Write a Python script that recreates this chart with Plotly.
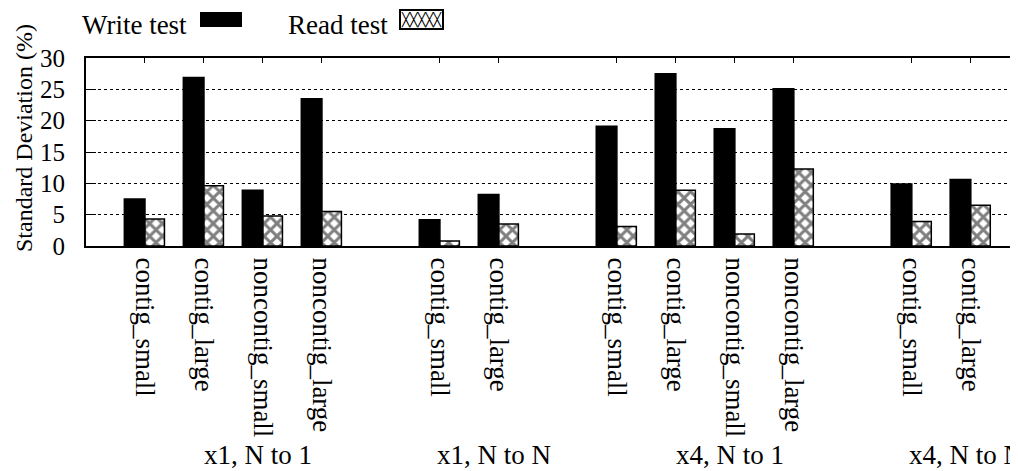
import plotly.graph_objects as go

groups = ["x1, N to 1", "x1, N to N", "x4, N to 1", "x4, N to N"]
group_cats = [
    ["contig_small", "contig_large", "noncontig_small", "noncontig_large"],
    ["contig_small", "contig_large"],
    ["contig_small", "contig_large", "noncontig_small", "noncontig_large"],
    ["contig_small", "contig_large"],
]
write_vals = [7.5, 26.9, 8.9, 23.5, 4.2, 8.2, 19.1, 27.5, 18.7, 25.1, 9.9, 10.6]
read_vals = [4.3, 9.6, 4.8, 5.5, 0.8, 3.5, 3.1, 8.9, 1.9, 12.3, 3.9, 6.5]
y_ticks = [0, 5, 10, 15, 20, 25, 30]
series_names = ["Write test", "Read test"]

# slot positions: one empty slot between groups
xs, labels, centers = [], [], []
pos = 1
for cats in group_cats:
    gx = []
    for c in cats:
        xs.append(pos)
        labels.append(c)
        gx.append(pos)
        pos += 1
    centers.append(sum(gx) / len(gx))
    pos += 1

FONT = "Liberation Serif"
FS = 27
OFF = 8  # default page body margin
W, H = 1018 - OFF, 471 - OFF
ML, MT = 86 - OFF, 58 - OFF
PB = 246 - OFF
MB = H - PB
PW, PH = W - ML, PB - MT

def px_x(p):
    return (p - OFF - ML) / PW

def px_y(p):
    return (PB - (p - OFF)) / PH

fig = go.Figure()
fig.add_trace(go.Bar(
    x=xs, y=write_vals, name=series_names[0], showlegend=False,
    marker=dict(color="black", line=dict(color="black", width=1.5)),
    offset=-0.35, width=0.35, hoverinfo="y",
))
fig.add_trace(go.Bar(
    x=xs, y=read_vals, name=series_names[1], showlegend=False,
    marker=dict(color="white", line=dict(color="black", width=1.5),
                pattern=dict(shape="x", fgcolor="black", bgcolor="white",
                             size=9, solidity=0.55, fillmode="overlay")),
    offset=0.0, width=0.33, hoverinfo="y",
))

# legend: text followed by key swatch
fig.add_annotation(x=px_x(188), y=1.0 + (MT - 1) / PH, xref="paper", yref="paper",
                   text=series_names[0], showarrow=False, xanchor="right", yanchor="top",
                   font=dict(family=FONT, size=FS, color="black"), borderpad=0)
fig.add_annotation(x=px_x(389), y=1.0 + (MT - 1) / PH, xref="paper", yref="paper",
                   text=series_names[1], showarrow=False, xanchor="right", yanchor="top",
                   font=dict(family=FONT, size=FS, color="black"), borderpad=0)
fig.add_annotation(x=px_x(221), y=px_y(19), xref="paper", yref="paper",
                   text="", showarrow=False, xanchor="center", yanchor="middle",
                   width=42, height=15, bgcolor="black", borderpad=0, borderwidth=0)
fig.add_annotation(x=px_x(421), y=px_y(19), xref="paper", yref="paper",
                   text="╳╳╳╳╳", showarrow=False, xanchor="center", yanchor="middle",
                   bgcolor="white", bordercolor="black", borderwidth=2, borderpad=0,
                   font=dict(family="DejaVu Sans Mono", size=13, color="black"))

for g, cx in zip(groups, centers):
    fig.add_annotation(x=cx + 0.42, y=px_y(455), xref="x", yref="paper",
                       text=g, showarrow=False, xanchor="center", yanchor="middle",
                       font=dict(family=FONT, size=FS, color="black"))

# y axis title
fig.add_annotation(x=px_x(24), y=px_y(138), xref="paper", yref="paper",
                   text="Standard Deviation (%)", showarrow=False, textangle=-90,
                   xanchor="center", yanchor="middle",
                   font=dict(family=FONT, size=24, color="black"))

fig.update_layout(
    width=W, height=H,
    margin=dict(l=ML, r=0, t=MT, b=MB, autoexpand=False),
    paper_bgcolor="white", plot_bgcolor="white",
    font=dict(family=FONT, size=FS, color="black"),
    showlegend=False,
)
fig.update_xaxes(
    range=[0, 15.8], tickvals=xs, ticktext=labels, tickangle=90,
    showline=True, linecolor="black", linewidth=2, mirror="ticks",
    ticks="inside", ticklen=5, tickcolor="black", showgrid=False,
    tickfont=dict(family=FONT, size=FS), ticklabelstandoff=4, automargin=False,
)
fig.update_yaxes(
    range=[0, 30], tickvals=y_ticks, showline=True, linecolor="black", linewidth=2,
    ticks="inside", ticklen=10, tickcolor="black",
    showgrid=True, gridcolor="black", griddash="dot", gridwidth=1,
    tickfont=dict(family=FONT, size=25), ticklabelstandoff=14, automargin=False,
    zeroline=False,
)

fig.write_html("out.html")
